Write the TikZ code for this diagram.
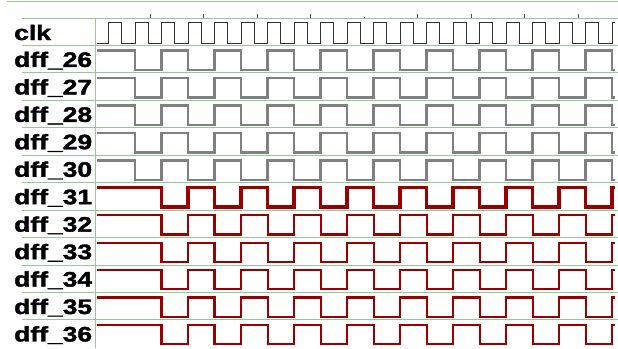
\documentclass[tikz,border=0pt]{standalone}
\usepackage{fontspec}
\setmainfont{Liberation Sans}
\newfontfamily\sigfont[FakeBold=1.6]{Liberation Sans Bold}
\definecolor{gridgreen}{RGB}{150,200,150}
\definecolor{wavegray}{RGB}{128,128,128}
\definecolor{wavered}{RGB}{155,0,0}
\definecolor{clkcol}{RGB}{50,50,50}
\tikzset{
  sepline/.style={draw=gridgreen, line width=1pt},
  tickline/.style={draw=black!70, line width=0.9pt},
  clkline/.style={draw=clkcol, line width=1pt, line join=miter},
  graywave/.style={draw=wavegray, line width=2.5pt, line join=miter},
  redwave/.style={draw=wavered, line width=2.1pt, line join=miter},
  redthick/.style={draw=wavered, line width=3.5pt, line join=miter},
  sig/.style={anchor=base west, inner sep=0pt, font=\sigfont\fontsize{21}{21}\selectfont}
}
\newcommand{\sigtext}[1]{\scalebox{1.26}[1]{#1}}
\begin{document}
\begin{tikzpicture}[x=1pt,y=-1pt]
\useasboundingbox (0,0) rectangle (618,348);
\def\per{26.51}
\def\rs{27.45}
% grid
\draw[sepline] (7,1) -- (618,1);
\foreach \i in {0,...,11} {
  \draw[sepline] (22,{18+\rs*\i}) -- (618,{18+\rs*\i});
}
\draw[sepline] (95.5,18) -- (95.5,348);
% ticks
\foreach \k in {1,2,3,4,6,7,8,9} {
  \draw[tickline] ({96.5+53.5*\k},14) -- ({96.5+53.5*\k},18);
}
\draw[tickline] (364,16.5) -- (364,18);
% labels
\node[sig] (lclk) at (14,{18+22}) {\sigtext{clk}};
\foreach \i/\n in {1/26,2/27,3/28,4/29,5/30,6/31,7/32,8/33,9/34,10/35,11/36} {
  \node[sig] (l\n) at (14,{18+\rs*\i+21.5}) {\sigtext{dff\_\n}};
}
% clock
\draw[clkline] (96.7,43)
  \foreach \k in {-1,...,17} {
    -- ({135+\per*\k},43) -- ({135+\per*\k},22.7)
    -- ({135+\per*\k+13.25},22.7) -- ({135+\per*\k+13.25},43)
  }
  -- ({135+\per*18},43) -- ({135+\per*18},22.7) -- (615,22.7);
% gray waves dff_26..30
\foreach \i in {1,...,5} {
  \pgfmathsetmacro{\hy}{18+\rs*\i+5}
  \pgfmathsetmacro{\ly}{18+\rs*\i+24.5}
  \draw[graywave] (96.7,\hy)
    \foreach \k in {0,2,...,16} {
      -- ({135+\per*\k},\hy) -- ({135+\per*\k},\ly)
      -- ({135+\per*(\k+1)},\ly) -- ({135+\per*(\k+1)},\hy)
    }
    -- ({135+\per*18},\hy) -- ({135+\per*18},\ly) -- (615,\ly);
}
% red waves dff_31..36
\foreach \i in {6,...,11} {
  \pgfmathsetmacro{\hy}{18+\rs*\i+5}
  \pgfmathsetmacro{\ly}{18+\rs*\i+24.3}
  \ifnum\i=6 \tikzset{curred/.style={redthick}}\else\tikzset{curred/.style={redwave}}\fi
  \draw[curred] (96.7,\hy)
    \foreach \k in {1,3,...,17} {
      -- ({135+\per*\k},\hy) -- ({135+\per*\k},\ly)
      -- ({135+\per*(\k+1)},\ly) -- ({135+\per*(\k+1)},\hy)
    }
    -- (615,\hy);
}
\end{tikzpicture}
\end{document}
